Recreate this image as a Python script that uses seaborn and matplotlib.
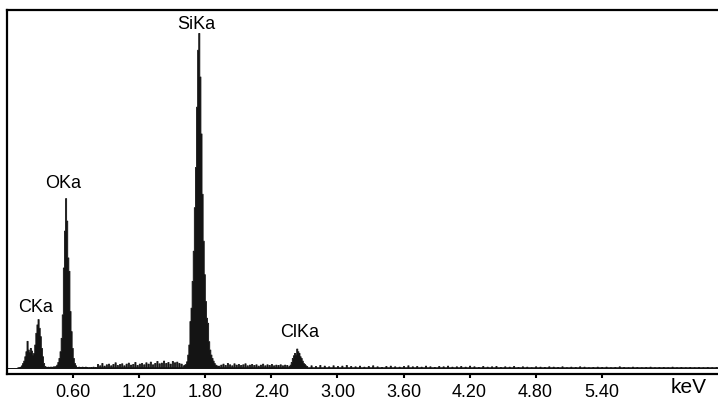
import numpy as np
import pandas as pd
import matplotlib
matplotlib.use("Agg")
import matplotlib.pyplot as plt
import seaborn as sns

# ---- data: EDS spectrum, counts per channel (arbitrary units) ----
# low-energy region (C Ka, O Ka), 0.01 keV channels starting at 0.10 keV
low_start, low_step = 0.10, 0.01
low_counts = [0, 2, 4, 8, 15, 22, 35, 50, 81, 55, 48, 60, 52, 40, 45, 70, 105, 130, 146,
              120, 95, 60, 35, 15, 6,
              4, 3, 4, 3, 4, 4, 3, 5, 4, 6,
              10, 18, 30, 50, 90, 160, 300, 410, 507, 440, 330, 290, 170, 110, 60, 30, 15, 8,
              3, 3, 4, 3, 3, 4, 3, 3, 4, 3]
# background between O and Si, 0.02 keV spacing
bg1_start, bg1_step = 0.74, 0.02
bg1_counts = [2, 3, 4, 3, 12, 8, 15, 7, 11, 13, 8, 12, 17, 9, 12, 14, 8, 13, 16, 10, 12, 18,
              9, 13, 15, 11, 17, 13, 19, 11, 15, 21, 14, 16, 22, 15, 18, 13, 21, 17, 19, 15, 13]
# Si Ka peak, 0.01 keV channels
si_start, si_step = 1.60, 0.01
si_counts = [8, 10, 12, 20, 40, 70, 140, 180, 260, 350, 480, 600, 780, 950, 1000, 870, 700,
             520, 380, 280, 200, 150, 135, 80, 55, 40, 30, 22, 15, 10, 8, 6, 7]
# background between Si and Cl
bg2_start, bg2_step = 1.94, 0.02
bg2_counts = [10, 13, 9, 15, 11, 8, 14, 10, 12, 9, 11, 14, 8, 10, 12, 9, 11, 7, 10, 13, 8, 11, 9,
              12, 8, 10, 9, 11, 8, 10, 9]
# Cl Ka peak
cl_start, cl_step = 2.56, 0.01
cl_counts = [6, 10, 18, 30, 38, 45, 40, 58, 50, 45, 35, 30, 22, 15, 12, 8, 6]
# high-energy tail background
bg3_start, bg3_step = 2.76, 0.04
bg3_counts = [8, 6, 9, 7, 5, 8, 6, 7, 9, 6, 5,
              7, 4, 6, 8, 5, 3, 6, 7, 5, 4, 6,
              8, 5, 6, 4, 7, 5, 3, 6, 5, 7, 4,
              5, 6, 4, 7, 5, 3, 6, 4, 5, 6, 3,
              5, 4, 6, 3, 5, 4, 2, 5, 4, 3, 5,
              4, 3, 5, 2, 4, 3, 5, 4, 2, 3, 4,
              3, 4, 2, 3, 5, 3, 2, 4, 3, 2, 3,
              4, 2, 3, 3, 2, 4, 2, 3, 2, 3, 2,
              3, 2, 3, 2, 3]

peak_names = ["CKa", "OKa", "SiKa", "ClKa"]
peak_energies = [0.28, 0.53, 1.74, 2.63]

tick_values = [0.60, 1.20, 1.80, 2.40, 3.00, 3.60, 4.20, 4.80, 5.40]
tick_labels = ["0.60", "1.20", "1.80", "2.40", "3.00", "3.60", "4.20", "4.80", "5.40"]
x_unit = "keV"

# ---- build table ----
segments = [(low_start, low_step, low_counts), (bg1_start, bg1_step, bg1_counts),
            (si_start, si_step, si_counts), (bg2_start, bg2_step, bg2_counts),
            (cl_start, cl_step, cl_counts), (bg3_start, bg3_step, bg3_counts)]
rows = []
for start, step, counts in segments:
    for i, c in enumerate(counts):
        rows.append((round(start + i * step, 3), c))
df = pd.DataFrame(rows, columns=["energy", "counts"])

sns.set_style("white")
plt.rcParams["font.family"] = ["Liberation Sans", "DejaVu Sans"]

W, H = 718, 404
fig = plt.figure(figsize=(W / 100, H / 100), dpi=100)
ax = fig.add_axes([7.25 / W, 30 / H, 710.75 / W, 364 / H])

sns.histplot(data=df, x="energy", weights="counts", binwidth=0.01,
             binrange=(-0.005, 6.455), element="step",
             fill=True, color="#141414", alpha=1, linewidth=0.6, ax=ax)
# spectrum zero baseline
ax.axhline(0, xmin=0.015, xmax=1, color="#141414", linewidth=1.1)

ax.set_xlim(0, 6.457)
ax.set_ylim(-17.9, 1068.6)
ax.set_xticks(tick_values)
ax.set_xticklabels(tick_labels, fontsize=13)
ax.set_yticks([])
ax.set_xlabel("")
ax.set_ylabel("")
ax.tick_params(axis="x", direction="out", length=3, width=1.5, pad=4, color="black",
               labelcolor="black", bottom=True)
for side in ["left", "top", "bottom"]:
    ax.spines[side].set_visible(True)
    ax.spines[side].set_linewidth(1.6)
    ax.spines[side].set_color("black")
ax.spines["right"].set_visible(False)

# peak labels
lookup = dict(zip(df["energy"], df["counts"]))
offsets = [(-2.4, 7), (-2.6, 10), (-2.3, 4), (2.7, 12)]
for name, e, off in zip(peak_names, peak_energies, offsets):
    h = lookup[round(e, 3)]
    ax.annotate(name, xy=(e, h), xytext=off, textcoords="offset pixels",
                ha="center", va="baseline", fontsize=13, color="black")

ax.text(0.958, -0.052, x_unit, transform=ax.transAxes, ha="center", va="baseline",
        fontsize=15, color="black")

fig.savefig("out.png", dpi=100)
